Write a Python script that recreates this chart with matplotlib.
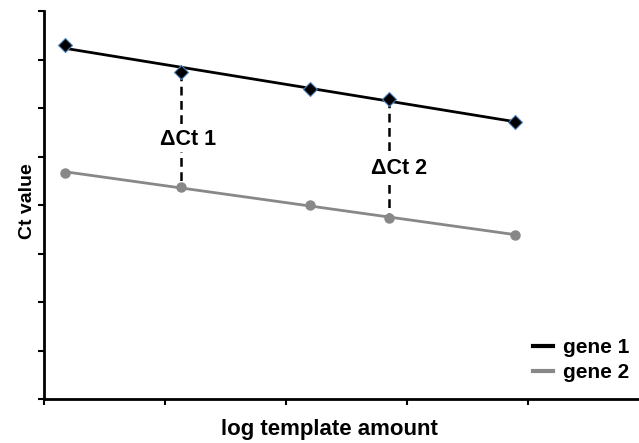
import numpy as np
import matplotlib.pyplot as plt

# log template amount (dilution steps) and Ct values for both genes
log_amount = [0.17, 1.13, 2.2, 2.85, 3.89]
ct_gene1 = [36.5, 33.7, 32.0, 30.9, 28.6]
ct_gene2 = [23.3, 21.9, 20.0, 18.7, 16.9]

# which dilution steps get a delta-Ct bracket
delta_idx = [1, 3]
delta_labels = ['\u0394Ct 1', '\u0394Ct 2']

plt.rcParams['font.family'] = ['Liberation Sans', 'DejaVu Sans']
plt.rcParams['font.weight'] = 'bold'

fig = plt.figure(figsize=(6.39, 4.43), dpi=100)
ax = fig.add_axes([44/639, 44/443, 595/639, 388/443])

x = np.array(log_amount)
xfit = np.array([x[0], x[-1]])

# trendlines
p1 = np.polyfit(x, ct_gene1, 1)
p2 = np.polyfit(x, ct_gene2, 1)
ax.plot(xfit, np.polyval(p1, xfit), color='black', lw=2, label='gene 1', zorder=2)
ax.plot(xfit, np.polyval(p2, xfit), color='#888888', lw=2, label='gene 2', zorder=2)

# data points
ax.plot(x, ct_gene1, ls='none', marker='D', ms=7, mfc='black', mec='#4f81bd', mew=0.8, zorder=4)
ax.plot(x, ct_gene2, ls='none', marker='o', ms=6.5, mfc='#888888', mec='#888888', zorder=4)

# delta Ct brackets, label offsets (dx, dy) from the gene 1 point
offsets = [(0.06, -6.9), (0.085, -7.1)]
for i, lab, (dx, dy) in zip(delta_idx, delta_labels, offsets):
    ax.plot([x[i], x[i]], [ct_gene1[i], ct_gene2[i]], color='black', lw=1.8,
            ls=(0, (3.5, 2.2)), zorder=1)
    ax.text(x[i] + dx, ct_gene1[i] + dy, lab, ha='center', va='center',
            fontsize=15.5, fontweight='bold',
            bbox=dict(facecolor='white', edgecolor='none', pad=2), zorder=3)

ax.set_xlim(0, 595/121)
ax.set_ylim(0, 40)
ax.set_xticks([0, 1, 2, 3, 4])
ax.set_yticks(np.arange(0, 41, 5))
ax.set_xticklabels([])
ax.set_yticklabels([])
ax.tick_params(direction='out', length=4, width=1.5)

for s in ['top', 'right']:
    ax.spines[s].set_visible(False)
for s in ['left', 'bottom']:
    ax.spines[s].set_linewidth(2)

ax.set_xlabel('log template amount', fontsize=16, fontweight='bold')
ax.xaxis.set_label_coords(0.48, -0.052)
ax.set_ylabel('Ct value', fontsize=14, fontweight='bold')
ax.yaxis.set_label_coords(-0.014, 0.51)

leg = ax.legend(loc='lower right', bbox_to_anchor=(1.015, -0.005), frameon=False,
                handlelength=1.0, handletextpad=0.45, labelspacing=0.3,
                prop={'size': 15, 'weight': 'bold'})
for line in leg.get_lines():
    line.set_linewidth(3)

fig.savefig('out.png', dpi=100)
